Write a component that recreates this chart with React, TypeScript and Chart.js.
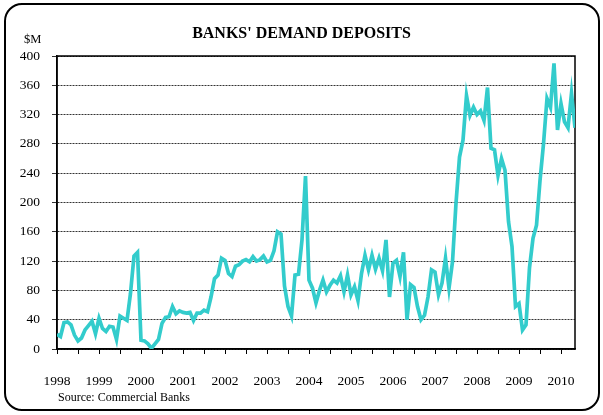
import React, { useEffect, useRef } from 'react';
import { Chart, registerables } from 'chart.js';

Chart.register(...registerables);

// Monthly demand deposits ($M), Jan 1998 .. May 2010
const START_YEAR = 1998;
const deposits1998_2001 = [
  20, 17, 36, 37, 33, 19, 11, 15, 26, 32, 38, 21,
  42, 28, 24, 31, 30, 13, 45, 42, 39, 76, 127, 132,
  12, 11, 7, 1, 7, 13, 35, 43, 44, 58, 48, 52,
  50, 49, 50, 39, 49, 49, 53, 51, 71, 96, 101, 124,
];
const deposits2002_2005 = [
  121, 103, 99, 113, 115, 120, 122, 119, 126, 120, 122, 127,
  119, 121, 134, 160, 157, 86, 58, 45, 101, 102, 149, 236,
  94, 83, 63, 80, 94, 78, 87, 94, 90, 100, 78, 101,
  74, 85, 66, 103, 128, 108, 128, 109, 124, 107, 149, 71,
];
const deposits2006_2010 = [
  117, 121, 99, 132, 40, 88, 84, 58, 40, 46, 71, 108,
  105, 74, 90, 124, 83, 119, 199, 262, 285, 346, 319, 330,
  320, 325, 312, 357, 274, 272, 237, 260, 244, 174, 140, 58,
  62, 26, 33, 111, 151, 169, 230, 280, 342, 330, 390, 299,
  335, 310, 302, 349, 302,
];
const deposits = [...deposits1998_2001, ...deposits2002_2005, ...deposits2006_2010];
const Y_MIN = 0;
const Y_MAX = 400;
const Y_STEP = 40;
const X_TICK_STEP = 6; // half-year tick marks, labels every 12 months

const SERIF = "'Times New Roman', 'Liberation Serif', serif";

export default function App() {
  const ref = useRef<HTMLCanvasElement>(null);

  useEffect(() => {
    document.body.style.margin = '0';
    const canvas = ref.current;
    if (!canvas) return;

    const frame = {
      id: 'frame',
      beforeDatasetsDraw(chart: any) {
        const { ctx, chartArea: a } = chart;
        ctx.save();
        ctx.strokeStyle = '#000';
        ctx.lineWidth = 1.5;
        ctx.strokeRect(a.left, a.top, a.right - a.left, a.bottom - a.top);
        ctx.restore();
      },
    };

    const xMax = deposits.length - 1;

    const chart = new Chart(canvas, {
      type: 'line',
      data: {
        datasets: [
          {
            data: deposits.map((v, i) => ({ x: i, y: v })),
            borderColor: '#33CCCC',
            borderWidth: 3.7,
            pointRadius: 0,
            tension: 0,
            fill: false,
          },
        ],
      },
      options: {
        animation: false,
        responsive: false,
        maintainAspectRatio: false,
        layout: { padding: { top: 56, right: 28, left: 0, bottom: 0 } },
        plugins: {
          legend: { display: false },
          tooltip: { enabled: false },
        },
        scales: {
          x: {
            type: 'linear',
            min: 0,
            max: xMax,
            afterFit(s: any) {
              s.height = 66;
            },
            afterBuildTicks(s: any) {
              const t: any[] = [];
              for (let v = 0; v <= xMax; v += X_TICK_STEP) t.push({ value: v });
              s.ticks = t;
            },
            ticks: {
              autoSkip: false,
              maxRotation: 0,
              padding: 19,
              color: '#000',
              font: { family: SERIF, size: 13.5 },
              callback: (v: any) => (v % 12 === 0 ? String(START_YEAR + v / 12) : ''),
            },
            grid: {
              drawOnChartArea: false,
              drawTicks: true,
              tickLength: 5,
              color: '#000',
              lineWidth: 1,
            },
            border: { display: true, color: '#000', width: 1.5 },
          },
          y: {
            min: Y_MIN,
            max: Y_MAX,
            afterFit(s: any) {
              s.width = 57;
            },
            ticks: {
              stepSize: Y_STEP,
              padding: 12,
              color: '#000',
              font: { family: SERIF, size: 13.5 },
            },
            grid: {
              color: '#333',
              lineWidth: 1,
              drawTicks: true,
              tickLength: 5,
            },
            border: { display: true, color: '#000', width: 1.5, dash: [2, 1] },
          },
        },
      },
      plugins: [frame],
    });

    return () => chart.destroy();
  }, []);

  return (
    <div style={{ position: 'relative', width: 603, height: 415, fontFamily: SERIF, background: '#fff' }}>
      <canvas ref={ref} width={603} height={415} style={{ position: 'absolute', left: 0, top: 0, width: 603, height: 415 }} />
      <div
        style={{
          position: 'absolute',
          left: 0,
          width: 603,
          top: 25,
          textAlign: 'center',
          fontWeight: 'bold',
          fontSize: 16,
          lineHeight: '16px',
          color: '#000',
        }}
      >
        BANKS' DEMAND DEPOSITS
      </div>
      <div style={{ position: 'absolute', left: 24, top: 33, fontSize: 12.5, lineHeight: '12.5px', color: '#000' }}>$M</div>
      <div style={{ position: 'absolute', left: 58, top: 391, fontSize: 12, lineHeight: '12px', color: '#000' }}>
        Source: Commercial Banks
      </div>
      <div
        style={{
          position: 'absolute',
          left: 4,
          top: 3,
          width: 596,
          height: 408,
          boxSizing: 'border-box',
          border: '2.5px solid #000',
          borderRadius: 18,
          pointerEvents: 'none',
        }}
      />
    </div>
  );
}
